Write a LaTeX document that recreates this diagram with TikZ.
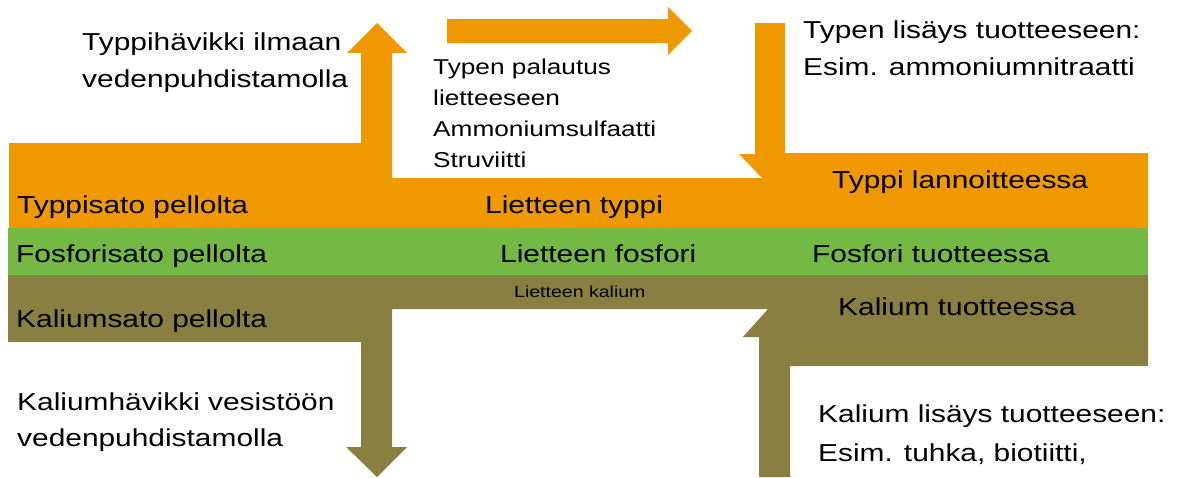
\documentclass[tikz,border=0pt]{standalone}
\usepackage{fontspec}
\setmainfont{Liberation Sans}
\newfontfamily\wfont[FakeStretch=1.22]{Liberation Sans}
\definecolor{typpi}{RGB}{240,152,0}
\definecolor{fosfori}{RGB}{115,185,68}
\definecolor{kalium}{RGB}{136,127,64}
\begin{document}
\begin{tikzpicture}[x=1pt,y=-1pt,
  big/.style={anchor=base west,inner sep=0pt,font=\wfont\fontsize{24.5}{30}\selectfont},
  mid/.style={anchor=base west,inner sep=0pt,font=\wfont\fontsize{21.5}{30}\selectfont},
  small/.style={anchor=base west,inner sep=0pt,font=\wfont\fontsize{16}{20}\selectfont}]
\useasboundingbox[fill=white] (0,0) rectangle (1177,477);
% nitrogen (orange)
\fill[typpi] (9,143) -- (361,143) -- (361,53) -- (347,53) -- (377,23) -- (407,53) -- (392,53)
  -- (392,178) -- (762,178) -- (739,154) -- (755,154) -- (755,23) -- (785,23) -- (785,153)
  -- (1148,153) -- (1148,228) -- (9,228) -- cycle;
\fill[typpi] (447,19) -- (668,19) -- (668,7) -- (692,31) -- (668,55) -- (668,43) -- (447,43) -- cycle;
% phosphorus (green)
\fill[fosfori] (8,228) rectangle (1148,275);
% potassium (olive)
\fill[kalium] (8,275) -- (1148,275) -- (1148,366) -- (790,366) -- (790,477) -- (759,477)
  -- (759,337) -- (743,337) -- (768,309) -- (392,309) -- (392,447) -- (407,447) -- (377,477)
  -- (346,447) -- (361,447) -- (361,342) -- (8,342) -- cycle;
% texts
\node[big] (ha1) at (82,50) {Typpihävikki ilmaan};
\node[big] (ha2) at (82,87) {vedenpuhdistamolla};
\node[mid] (pa1) at (433,74) {Typen palautus};
\node[mid] (pa2) at (433,105) {lietteeseen};
\node[mid] (pa3) at (433,136) {Ammoniumsulfaatti};
\node[mid] (pa4) at (433,167) {Struviitti};
\node[big] (li1) at (803,38) {Typen lisäys tuotteeseen:};
\node[big] (li2) at (803,75) {Esim. ammoniumnitraatti};
\node[big] (tl) at (832,188) {Typpi lannoitteessa};
\node[big] (lt) at (485,213) {Lietteen typpi};
\node[big] (ts) at (17,213) {Typpisato pellolta};
\node[big] (fs) at (16,262) {Fosforisato pellolta};
\node[big] (lf) at (500,262) {Lietteen fosfori};
\node[big] (ft) at (812,262) {Fosfori tuotteessa};
\node[small] (lk) at (514,297) {Lietteen kalium};
\node[big] (kt) at (838,315) {Kalium tuotteessa};
\node[big] (ks) at (16,327) {Kaliumsato pellolta};
\node[big] (kh1) at (17,410) {Kaliumhävikki vesistöön};
\node[big] (kh2) at (17,446) {vedenpuhdistamolla};
\node[big] (kl1) at (818,422) {Kalium lisäys tuotteeseen:};
\node[big] (kl2) at (818,461) {Esim. tuhka, biotiitti,};
\end{tikzpicture}
\end{document}
